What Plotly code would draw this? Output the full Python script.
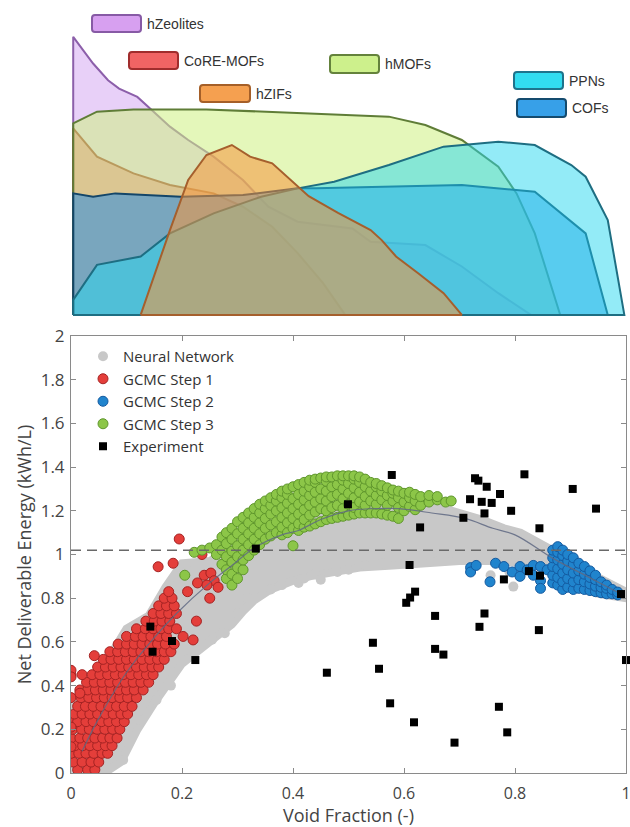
import plotly.graph_objects as go

W, H = 630, 827

# ---------------- top panel: void-fraction distributions ----------------
zeo_x = [0, 0.036, 0.063, 0.083, 0.116, 0.142, 0.175, 0.208, 0.254, 0.307, 0.353, 0.406, 0.505, 0.538, 0.637, 0.703, 0.769, 0.828]
zeo_y = [1.0, 0.904, 0.844, 0.814, 0.784, 0.737, 0.677, 0.629, 0.569, 0.485, 0.389, 0.335, 0.311, 0.263, 0.251, 0.174, 0.078, 0.0]

core_x = [0, 0.043, 0.109, 0.175, 0.254, 0.307, 0.36, 0.406, 0.452, 0.492]
core_y = [0.671, 0.569, 0.509, 0.467, 0.437, 0.389, 0.317, 0.222, 0.114, 0.0]

hmof_x = [0, 0.043, 0.109, 0.241, 0.439, 0.571, 0.637, 0.703, 0.769, 0.802, 0.835, 0.881]
hmof_y = [0.689, 0.731, 0.739, 0.739, 0.725, 0.713, 0.683, 0.629, 0.533, 0.437, 0.293, 0.0]

zif_x = [0.122, 0.175, 0.208, 0.241, 0.287, 0.320, 0.360, 0.393, 0.426, 0.479, 0.538, 0.558, 0.584, 0.624, 0.670, 0.703]
zif_y = [0.0, 0.305, 0.485, 0.575, 0.611, 0.569, 0.545, 0.487, 0.427, 0.367, 0.305, 0.269, 0.210, 0.150, 0.078, 0.0]

ppn_x = [0, 0.043, 0.122, 0.175, 0.254, 0.340, 0.406, 0.472, 0.571, 0.670, 0.769, 0.835, 0.901, 0.927, 0.967, 0.997]
ppn_y = [0.054, 0.180, 0.210, 0.293, 0.365, 0.425, 0.455, 0.479, 0.539, 0.605, 0.623, 0.611, 0.539, 0.497, 0.341, 0.0]

cof_x = [0, 0.036, 0.076, 0.195, 0.307, 0.406, 0.439, 0.703, 0.835, 0.927, 0.967]
cof_y = [0.437, 0.425, 0.437, 0.425, 0.431, 0.455, 0.455, 0.467, 0.443, 0.293, 0.0]

dist_names = ["hZeolites", "CoRE-MOFs", "hMOFs", "COFs", "PPNs", "hZIFs"]

# ---------------- bottom panel ----------------
# Neural-network cloud outline (lower edge left->right, upper edge right->left)
nn_lo_x = [0.0, 0.06, 0.09, 0.12, 0.15, 0.18, 0.20, 0.23, 0.26, 0.29, 0.31, 0.33, 0.36, 0.40, 0.43, 0.47, 0.52, 0.58, 0.64, 0.70, 0.76, 0.82, 0.87, 0.90, 0.95, 1.0]
nn_lo_y = [0.0, 0.0, 0.05, 0.20, 0.32, 0.42, 0.50, 0.56, 0.62, 0.68, 0.74, 0.79, 0.84, 0.88, 0.90, 0.92, 0.94, 0.95, 0.96, 0.97, 0.97, 0.96, 0.92, 0.86, 0.82, 0.80]
nn_hi_x = [1.0, 0.95, 0.90, 0.86, 0.81, 0.78, 0.74, 0.70, 0.66, 0.62, 0.56, 0.50, 0.45, 0.40, 0.35, 0.30, 0.25, 0.20, 0.17, 0.14, 0.10, 0.05, 0.0]
nn_hi_y = [0.83, 0.89, 0.96, 1.03, 1.10, 1.12, 1.16, 1.19, 1.22, 1.24, 1.25, 1.24, 1.22, 1.18, 1.12, 1.05, 0.97, 0.96, 0.85, 0.72, 0.66, 0.45, 0.30]

nn_dot_x = [0.094, 0.06, 0.124, 0.154, 0.18, 0.197, 0.226, 0.254, 0.277, 0.30, 0.318, 0.36, 0.38, 0.41, 0.42, 0.44, 0.45, 0.48, 0.50, 0.53, 0.56, 0.60, 0.66, 0.756, 0.79, 0.797, 0.01, 0.03, 0.05]
nn_dot_y = [0.06, 0.01, 0.243, 0.334, 0.40, 0.52, 0.56, 0.61, 0.64, 0.73, 0.80, 0.84, 0.86, 0.87, 0.89, 0.91, 0.885, 0.92, 0.93, 0.95, 0.96, 0.96, 0.97, 0.905, 0.92, 0.853, 0.02, 0.01, 0.0]

# GCMC step 1: rows of (y, [x, ...])
red_rows = [
    (0.015, [0.012, 0.03, 0.043]),
    (0.05, [0.004, 0.02, 0.036, 0.05]),
    (0.09, [0.0, 0.014, 0.027, 0.041, 0.056, 0.066]),
    (0.125, [0.007, 0.021, 0.034, 0.048, 0.062, 0.074]),
    (0.16, [0.0, 0.016, 0.03, 0.043, 0.057, 0.07, 0.083]),
    (0.20, [0.003, 0.019, 0.033, 0.047, 0.061, 0.075, 0.088]),
    (0.235, [0.0, 0.012, 0.027, 0.04, 0.055, 0.068, 0.082, 0.096]),
    (0.27, [0.006, 0.02, 0.034, 0.048, 0.062, 0.076, 0.09, 0.102]),
    (0.305, [0.012, 0.026, 0.04, 0.054, 0.068, 0.082, 0.096, 0.11]),
    (0.345, [0.0, 0.018, 0.032, 0.046, 0.06, 0.074, 0.088, 0.102, 0.118]),
    (0.38, [0.016, 0.03, 0.044, 0.058, 0.072, 0.086, 0.1, 0.114, 0.13]),
    (0.415, [0.028, 0.042, 0.056, 0.07, 0.084, 0.098, 0.112, 0.126, 0.14]),
    (0.45, [0.0, 0.02, 0.038, 0.052, 0.066, 0.08, 0.094, 0.108, 0.122, 0.136, 0.148]),
    (0.485, [0.048, 0.062, 0.076, 0.09, 0.104, 0.118, 0.132, 0.146, 0.158]),
    (0.52, [0.058, 0.072, 0.086, 0.1, 0.114, 0.128, 0.142, 0.156, 0.168]),
    (0.555, [0.07, 0.084, 0.098, 0.112, 0.126, 0.14, 0.154, 0.168, 0.18]),
    (0.59, [0.085, 0.1, 0.114, 0.128, 0.142, 0.156, 0.17, 0.186]),
    (0.625, [0.1, 0.116, 0.13, 0.144, 0.158, 0.172, 0.202]),
    (0.66, [0.118, 0.134, 0.148, 0.162, 0.176, 0.19]),
    (0.695, [0.135, 0.15, 0.164, 0.178, 0.226]),
    (0.73, [0.148, 0.162, 0.176, 0.19]),
    (0.765, [0.158, 0.172, 0.186]),
    (0.80, [0.168, 0.182, 0.25]),
    (0.83, [0.176, 0.21]),
]
red_extra_x = [0.042, 0.0, 0.0, 0.016, 0.0, 0.0, 0.195, 0.157, 0.184, 0.22, 0.228, 0.24, 0.252, 0.258, 0.245, 0.265, 0.236]
red_extra_y = [0.537, 0.47, 0.44, 0.365, 0.21, 0.12, 1.071, 0.944, 0.96, 0.609, 0.87, 0.905, 0.915, 0.88, 0.86, 0.85, 1.0]

# GCMC step 3: columns of (x, [y, ...])
green_cols = [
    (0.205, [0.905]), (0.222, [1.01]), (0.236, [1.02]), (0.25, [1.03]),
    (0.262, [1.0, 1.045]), (0.272, [0.955, 1.02, 1.08]),
    (0.28, [0.89, 0.93, 0.99, 1.05, 1.1]),
    (0.29, [0.86, 0.91, 0.965, 1.015, 1.07, 1.12]),
    (0.30, [0.89, 0.94, 0.99, 1.04, 1.095, 1.15]),
    (0.31, [0.93, 0.975, 1.02, 1.07, 1.12, 1.17]),
    (0.32, [0.995, 1.045, 1.095, 1.145, 1.19]),
    (0.33, [1.02, 1.07, 1.12, 1.17, 1.21]),
    (0.34, [1.045, 1.095, 1.145, 1.19, 1.23]),
    (0.35, [1.07, 1.12, 1.165, 1.21, 1.245]),
    (0.36, [1.085, 1.135, 1.185, 1.225, 1.26]),
    (0.37, [1.1, 1.15, 1.2, 1.245, 1.275]),
    (0.38, [1.09, 1.125, 1.17, 1.215, 1.26, 1.29]),
    (0.39, [1.1, 1.145, 1.19, 1.235, 1.275, 1.3]),
    (0.40, [1.04, 1.12, 1.165, 1.21, 1.255, 1.31]),
    (0.41, [1.11, 1.14, 1.185, 1.23, 1.275, 1.32]),
    (0.42, [1.125, 1.16, 1.205, 1.25, 1.29, 1.33]),
    (0.43, [1.13, 1.18, 1.225, 1.27, 1.31, 1.34]),
    (0.44, [1.14, 1.195, 1.24, 1.285, 1.33, 1.345]),
    (0.45, [1.15, 1.21, 1.255, 1.3, 1.35]),
    (0.46, [1.16, 1.2, 1.245, 1.29, 1.335, 1.355]),
    (0.47, [1.165, 1.215, 1.265, 1.31, 1.355]),
    (0.48, [1.17, 1.225, 1.275, 1.32, 1.36]),
    (0.49, [1.175, 1.21, 1.255, 1.3, 1.34, 1.36]),
    (0.50, [1.18, 1.23, 1.28, 1.325, 1.36]),
    (0.51, [1.185, 1.215, 1.26, 1.305, 1.345, 1.36]),
    (0.52, [1.19, 1.24, 1.285, 1.33, 1.355]),
    (0.53, [1.19, 1.225, 1.265, 1.31, 1.345]),
    (0.54, [1.19, 1.245, 1.29, 1.33]),
    (0.55, [1.19, 1.23, 1.27, 1.31, 1.325]),
    (0.56, [1.185, 1.25, 1.29, 1.315]),
    (0.57, [1.18, 1.225, 1.27, 1.305]),
    (0.58, [1.175, 1.245, 1.28, 1.295]),
    (0.59, [1.165, 1.215, 1.26, 1.29]),
    (0.60, [1.2, 1.24, 1.28]),
    (0.61, [1.22, 1.26, 1.285]),
    (0.62, [1.205, 1.245, 1.275]),
    (0.63, [1.225, 1.265]),
    (0.645, [1.24, 1.27]),
    (0.66, [1.25, 1.265]),
    (0.675, [1.24]),
    (0.685, [1.245]),
]

# GCMC step 2: columns of (x, [y, ...])
blue_cols = [
    (0.72, [0.94, 0.92]), (0.73, [0.95]), (0.755, [0.875]), (0.765, [0.96]),
    (0.78, [0.945]), (0.795, [0.92]), (0.809, [0.9, 0.945]), (0.822, [0.93]),
    (0.833, [0.95, 0.905]), (0.846, [0.945, 0.88, 0.845]), (0.858, [0.93]),
    (0.868, [0.87, 0.905, 0.945, 0.985, 1.02]),
    (0.877, [0.86, 0.895, 0.935, 0.975, 1.01, 1.036]),
    (0.886, [0.84, 0.875, 0.915, 0.955, 0.995, 1.02]),
    (0.895, [0.85, 0.89, 0.93, 0.97, 1.0]),
    (0.905, [0.84, 0.875, 0.915, 0.955, 0.985]),
    (0.915, [0.845, 0.885, 0.925, 0.96]),
    (0.925, [0.84, 0.875, 0.91, 0.945]),
    (0.935, [0.835, 0.865, 0.895, 0.925]),
    (0.945, [0.83, 0.855, 0.885, 0.905]),
    (0.955, [0.825, 0.85, 0.875]),
    (0.965, [0.82, 0.845, 0.86]),
    (0.975, [0.82, 0.84]),
    (0.985, [0.815, 0.828]),
]

exp_x = [0.578, 0.728, 0.734, 0.749, 0.773, 0.817, 0.904, 0.946, 0.719, 0.740, 0.758, 0.745, 0.793, 0.707,
         0.499, 0.629, 0.844, 0.610, 0.825, 0.845, 0.780, 0.991, 0.620, 0.611, 0.604, 0.656, 0.745, 0.736,
         0.843, 0.544, 0.656, 0.671, 1.0, 0.461, 0.555, 0.575, 0.771, 0.618, 0.786, 0.691,
         0.143, 0.147, 0.182, 0.224, 0.333]
exp_y = [1.364, 1.349, 1.338, 1.310, 1.277, 1.367, 1.300, 1.210, 1.253, 1.241, 1.236, 1.188, 1.200, 1.168,
         1.230, 1.124, 1.120, 0.952, 0.924, 0.903, 0.886, 0.819, 0.830, 0.803, 0.779, 0.719, 0.730, 0.669,
         0.654, 0.596, 0.568, 0.542, 0.517, 0.459, 0.477, 0.319, 0.303, 0.232, 0.186, 0.139,
         0.670, 0.555, 0.604, 0.517, 1.027]

fit_x = [0.02, 0.05, 0.10, 0.15, 0.19, 0.25, 0.29, 0.33, 0.38, 0.41, 0.45, 0.50, 0.55, 0.59, 0.65, 0.71, 0.76, 0.80, 0.87, 0.93, 0.99]
fit_y = [0.10, 0.25, 0.46, 0.62, 0.73, 0.87, 0.95, 1.03, 1.09, 1.11, 1.16, 1.20, 1.21, 1.21, 1.19, 1.165, 1.12, 1.09, 0.98, 0.90, 0.82]

target_y = 1.02
x_ticks = [0, 0.2, 0.4, 0.6, 0.8, 1]
y_ticks = [0, 0.2, 0.4, 0.6, 0.8, 1, 1.2, 1.4, 1.6, 1.8, 2]


def expand_cols(cols):
    xs, ys = [], []
    for cx, vals in cols:
        for v in vals:
            xs.append(cx)
            ys.append(v)
    return xs, ys


def expand_rows(rows):
    xs, ys = [], []
    for cy, vals in rows:
        for v in vals:
            xs.append(v)
            ys.append(cy)
    return xs, ys


fig = go.Figure()

# ---- top panel traces ----
dist_data = {
    "hZeolites": (zeo_x, zeo_y, "rgba(205,150,240,0.45)", "rgb(140,95,170)"),
    "CoRE-MOFs": (core_x, core_y, "rgba(240,85,85,0.50)", "rgb(160,50,50)"),
    "hMOFs": (hmof_x, hmof_y, "rgba(205,240,130,0.55)", "rgb(95,125,55)"),
    "COFs": (cof_x, cof_y, "rgba(40,140,225,0.55)", "rgb(20,70,105)"),
    "PPNs": (ppn_x, ppn_y, "rgba(40,215,240,0.50)", "rgb(30,110,130)"),
    "hZIFs": (zif_x, zif_y, "rgba(245,150,60,0.55)", "rgb(165,95,45)"),
}
for nm in dist_names:
    dx, dy, fc, lc = dist_data[nm]
    px = [dx[0]] + list(dx) + [dx[-1], dx[0]]
    py = [0] + list(dy) + [0, 0]
    fig.add_trace(go.Scatter(x=px, y=py, mode="lines", fill="toself", fillcolor=fc,
                             line=dict(color=lc, width=2), xaxis="x2", yaxis="y2",
                             showlegend=False, hoverinfo="skip", name=nm))

# ---- bottom panel traces ----
GREY = "rgb(200,200,200)"
fig.add_trace(go.Scatter(x=nn_lo_x + nn_hi_x, y=nn_lo_y + nn_hi_y, mode="lines", fill="toself",
                         fillcolor=GREY, line=dict(color=GREY, width=8),
                         showlegend=False, hoverinfo="skip"))
fig.add_trace(go.Scatter(x=nn_dot_x, y=nn_dot_y, mode="markers", name="Neural Network",
                         marker=dict(size=10, color=GREY)))

rx, ry = expand_rows(red_rows)
rx += red_extra_x
ry += red_extra_y
fig.add_trace(go.Scatter(x=rx, y=ry, mode="markers", name="GCMC Step 1",
                         marker=dict(size=10, color="rgb(228,62,58)", line=dict(color="rgb(165,35,35)", width=1))))
bx, by = expand_cols(blue_cols)
gx, gy = expand_cols(green_cols)
fig.add_trace(go.Scatter(x=bx, y=by, mode="markers", name="GCMC Step 2",
                         marker=dict(size=10, color="rgb(32,132,205)", line=dict(color="rgb(20,90,160)", width=1))))
fig.add_trace(go.Scatter(x=gx, y=gy, mode="markers", name="GCMC Step 3",
                         marker=dict(size=10, color="rgb(140,198,72)", line=dict(color="rgb(95,150,45)", width=1))))

fig.add_trace(go.Scatter(x=fit_x, y=fit_y, mode="lines",
                         line=dict(color="rgba(95,105,130,0.85)", width=1.2, shape="spline"),
                         showlegend=False, hoverinfo="skip"))
fig.add_trace(go.Scatter(x=[0, 1], y=[target_y, target_y], mode="lines",
                         line=dict(color="rgb(105,105,105)", width=1.5, dash="10px,6px"),
                         showlegend=False, hoverinfo="skip"))
fig.add_trace(go.Scatter(x=exp_x, y=exp_y, mode="markers", name="Experiment",
                         marker=dict(size=8, symbol="square", color="black"), cliponaxis=False))

# ---- top-panel legend boxes ----
boxes = [
    ("hZeolites", 92, 15, 141, 32, "rgb(215,160,240)", "rgb(135,90,165)"),
    ("CoRE-MOFs", 129, 52, 178, 69, "rgb(240,100,100)", "rgb(160,45,45)"),
    ("hMOFs", 330, 55, 379, 73, "rgb(205,240,140)", "rgb(100,130,60)"),
    ("hZIFs", 200, 85, 250, 102, "rgb(245,160,80)", "rgb(165,95,40)"),
    ("PPNs", 514, 72, 563, 89, "rgb(50,220,240)", "rgb(30,115,140)"),
    ("COFs", 517, 99, 566, 117, "rgb(55,160,232)", "rgb(20,75,110)"),
]


def px2p(xp, yp):
    return xp / W, 1 - yp / H


def P(a, b):
    u, v = px2p(a, b)
    return f"{u:.5f},{v:.5f}"


shapes = []
annotations = []
for nm, x0, y0, x1, y1, fc, lc in boxes:
    r = 3
    path = (f"M{P(x0 + r, y0)} L{P(x1 - r, y0)} Q{P(x1, y0)} {P(x1, y0 + r)} "
            f"L{P(x1, y1 - r)} Q{P(x1, y1)} {P(x1 - r, y1)} L{P(x0 + r, y1)} "
            f"Q{P(x0, y1)} {P(x0, y1 - r)} L{P(x0, y0 + r)} Q{P(x0, y0)} {P(x0 + r, y0)} Z")
    shapes.append(dict(type="path", xref="paper", yref="paper", path=path,
                       fillcolor=fc, line=dict(color=lc, width=2)))
    tx, ty = px2p(x1 + 4, (y0 + y1) / 2)
    annotations.append(dict(x=tx, y=ty, xref="paper", yref="paper", text=nm, showarrow=False,
                            xanchor="left", yanchor="middle",
                            font=dict(family="Liberation Sans, Arial", size=14, color="#333")))

x_dom = [71 / W, 626 / W]
axis_common = dict(showgrid=False, zeroline=False, showline=True, linecolor="#8a8a8a", linewidth=1,
                   mirror="ticks", ticks="inside", ticklen=5, tickcolor="#8a8a8a", automargin=False)

fig.update_layout(
    width=W, height=H,
    margin=dict(l=0, r=0, t=0, b=0, autoexpand=False),
    paper_bgcolor="white", plot_bgcolor="white",
    xaxis=dict(domain=x_dom, range=[0, 1], tickvals=x_ticks, ticklabelstandoff=6,
               ticklabeloverflow="allow",
               tickfont=dict(family="Open Sans", size=16, color="#444"),
               title=dict(text="Void Fraction (-)", standoff=2,
                          font=dict(family="Open Sans", size=18, color="#444")),
               **axis_common),
    yaxis=dict(domain=[1 - 773 / H, 1 - 336 / H], range=[0, 2], tickvals=y_ticks, ticklabelstandoff=2,
               tickfont=dict(family="Open Sans", size=17, color="#444"),
               title=dict(text="Net Deliverable Energy (kWh/L)", standoff=4,
                          font=dict(family="Open Sans", size=18, color="#444")),
               **axis_common),
    xaxis2=dict(domain=x_dom, range=[-0.004, 1.0], visible=False, anchor="y2"),
    yaxis2=dict(domain=[1 - 316 / H, 1 - 36 / H], range=[-0.004, 1.003], visible=False, anchor="x2"),
    legend=dict(x=83 / W, y=1 - 340 / H, xanchor="left", yanchor="top", bgcolor="rgba(0,0,0,0)",
                font=dict(family="Open Sans", size=15, color="#333"), tracegroupgap=0),
    shapes=shapes,
    annotations=annotations,
    showlegend=True,
)

fig.write_html("out.html")
